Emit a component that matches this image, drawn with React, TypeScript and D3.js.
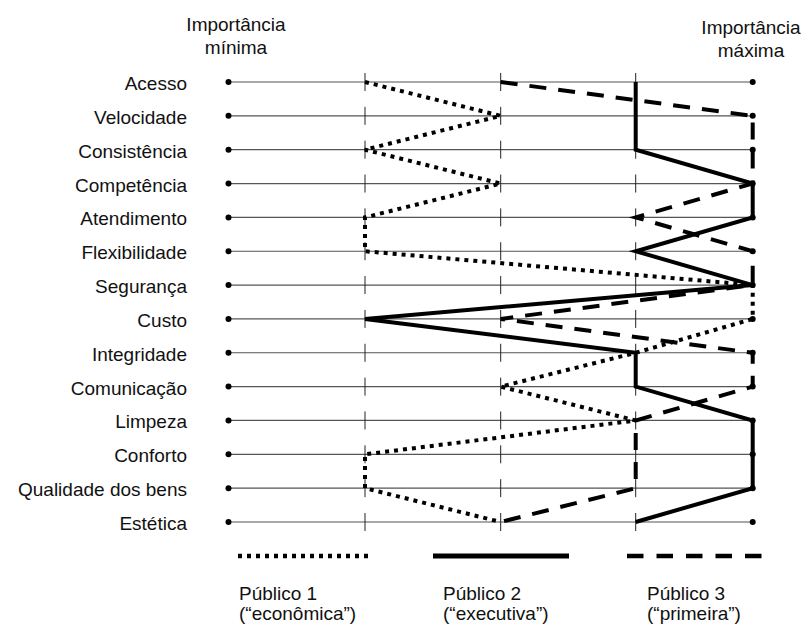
import { useEffect, useRef } from 'react';
import * as d3 from 'd3';

const CATEGORIES = [
  'Acesso', 'Velocidade', 'Consistência', 'Competência', 'Atendimento', 'Flexibilidade',
  'Segurança', 'Custo', 'Integridade', 'Comunicação', 'Limpeza', 'Conforto',
  'Qualidade dos bens', 'Estética',
];
// importance level 0 (mínima) .. 4 (máxima)
const LEVELS = [0, 1, 2, 3, 4];
const PUBLICO_1 = [1, 2, 1, 2, 1, 1, 4, 4, 3, 2, 3, 1, 1, 2];
const PUBLICO_2 = [3, 3, 3, 4, 4, 3, 4, 1, 3, 3, 4, 4, 4, 3];
const PUBLICO_3 = [2, 4, 4, 4, 3, 4, 4, 2, 4, 4, 3, 3, 3, 2];
const SERIES_NAMES = ['Público 1', 'Público 2', 'Público 3'];
const SERIES_SUBS = ['(“econômica”)', '(“executiva”)', '(“primeira”)'];

const W = 805;
const H = 624;
const FONT = 'Liberation Sans, Arial, sans-serif';

const STYLES = [
  { dash: '4 5', width: 4, legendWidth: 4.5 },
  { dash: null, width: 4, legendWidth: 5 },
  { dash: '17 12', width: 4, legendWidth: 4.5 },
];

export default function App() {
  const svgRef = useRef<SVGSVGElement>(null);

  useEffect(() => {
    const svg = d3.select(svgRef.current!);
    svg.selectAll('*').remove();

    const x = d3.scaleLinear().domain(LEVELS).range([228.5, 365, 500.7, 635.7, 752.7]);
    const y = d3.scalePoint<string>().domain(CATEGORIES).range([82, 522]);

    // rows
    const rows = svg.append('g').selectAll('g').data(CATEGORIES).join('g')
      .attr('transform', (d) => `translate(0,${y(d)})`);

    rows.append('line')
      .attr('x1', x(0)).attr('x2', x(4))
      .attr('stroke', '#555').attr('stroke-width', 1.2);

    rows.selectAll('.tick').data([1, 2, 3]).join('line')
      .attr('x1', (v) => x(v)).attr('x2', (v) => x(v))
      .attr('y1', -9).attr('y2', 9)
      .attr('stroke', '#222').attr('stroke-width', 1);

    rows.selectAll('circle').data([0, 4]).join('circle')
      .attr('cx', (v) => x(v)).attr('r', 3).attr('fill', '#000');

    rows.append('text')
      .attr('x', 187).attr('y', 8)
      .attr('text-anchor', 'end')
      .attr('font-family', FONT).attr('font-size', 19).attr('fill', '#111')
      .text((d) => d);

    // titles
    const titles = [
      { lines: ['Importância', 'mínima'], cx: 236, y0: 31 },
      { lines: ['Importância', 'máxima'], cx: 751, y0: 34 },
    ];
    titles.forEach((t) => {
      t.lines.forEach((ln, i) => {
        svg.append('text')
          .attr('x', t.cx).attr('y', t.y0 + i * 22.5)
          .attr('text-anchor', 'middle')
          .attr('font-family', FONT).attr('font-size', 19).attr('fill', '#111')
          .text(ln);
      });
    });

    // series polylines
    const line = d3.line<number>()
      .x((v) => x(v))
      .y((_, i) => y(CATEGORIES[i])!);

    [PUBLICO_1, PUBLICO_2, PUBLICO_3].forEach((vals, si) => {
      const s = STYLES[si];
      svg.append('path')
        .attr('d', line(vals))
        .attr('fill', 'none').attr('stroke', '#000')
        .attr('stroke-width', s.width)
        .attr('stroke-dasharray', s.dash)
        .attr('stroke-linejoin', 'miter');
    });

    // legend
    const legendX = [
      { x1: 238, x2: 370, tx: 239 },
      { x1: 433, x2: 569, tx: 443 },
      { x1: 627, x2: 765, tx: 647 },
    ];
    legendX.forEach((l, i) => {
      const s = STYLES[i];
      svg.append('line')
        .attr('x1', l.x1).attr('x2', l.x2).attr('y1', 556).attr('y2', 556)
        .attr('stroke', '#000').attr('stroke-width', s.legendWidth)
        .attr('stroke-dasharray', i === 2 ? '16.5 13' : s.dash);
      svg.append('text')
        .attr('x', l.tx).attr('y', 600)
        .attr('font-family', FONT).attr('font-size', 19).attr('fill', '#111')
        .text(SERIES_NAMES[i]);
      svg.append('text')
        .attr('x', l.tx).attr('y', 620)
        .attr('font-family', FONT).attr('font-size', 19).attr('fill', '#111')
        .text(SERIES_SUBS[i]);
    });
  }, []);

  return (
    <svg
      ref={svgRef}
      width={W}
      height={H}
      viewBox={`0 0 ${W} ${H}`}
      style={{ position: 'absolute', left: 0, top: 0, background: '#fff', display: 'block' }}
    />
  );
}
